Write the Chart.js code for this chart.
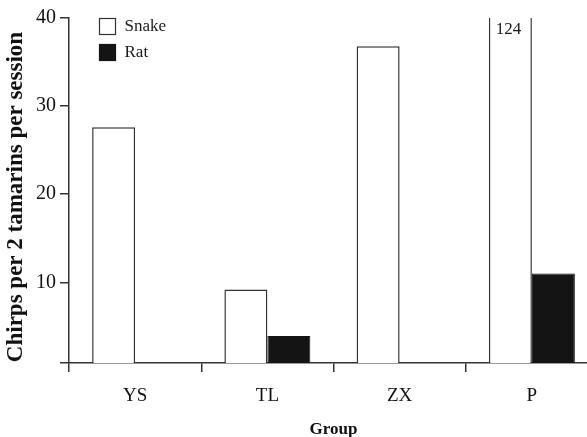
<!DOCTYPE html>
<html>
<head>
<meta charset="utf-8">
<script src="https://cdn.jsdelivr.net/npm/chart.js@4"></script>
<style>
  html, body { margin: 0; padding: 0; background: #fff; overflow: hidden; }
  #wrap { width: 598px; height: 437px; position: relative; }
</style>
</head>
<body>
<div id="wrap"><canvas id="chirps_chart"></canvas></div>
<script>
// chirps chart

let groups = ['YS', 'TL', 'ZX', 'P'];

let snake_chirps = [27.6, 9.2, 36.8, 124];
let rat_chirps = [null, 3.9, null, 11.0];

let y_ticks = [10, 20, 30, 40];
let y_min = 0.85;
let y_max = 40;

let y_title = 'Chirps per 2 tamarins per session';

const serif = "'Liberation Serif', 'Times New Roman', serif";
const ink = '#333';

// legend in the top-left corner of the plot
const cornerLegend = {
    id: 'cornerLegend',
    afterDraw(chart) {
        const ctx = chart.ctx;
        const area = chart.chartArea;
        ctx.save();
        chart.data.datasets.forEach((ds, i) => {
            const x = area.left + 30.5;
            const y = area.top + 0.5 + i * 26;
            ctx.fillStyle = ds.backgroundColor;
            ctx.fillRect(x, y, 16, 16);
            ctx.strokeStyle = ds.borderColor;
            ctx.lineWidth = 1.2;
            ctx.strokeRect(x, y, 16, 16);
            ctx.fillStyle = '#1a1a1a';
            ctx.font = '17px ' + serif;
            ctx.textBaseline = 'middle';
            ctx.fillText(ds.label, x + 25, y + 8);
        });
        ctx.restore();
    }
};

// value of the bar that runs off the top
const offScaleLabel = {
    id: 'offScaleLabel',
    afterDatasetsDraw(chart) {
        const ctx = chart.ctx;
        const meta = chart.getDatasetMeta(0);
        ctx.save();
        ctx.fillStyle = '#1a1a1a';
        ctx.font = '17px ' + serif;
        ctx.textAlign = 'center';
        ctx.textBaseline = 'middle';
        chart.data.datasets[0].data.forEach((v, i) => {
            if (v > y_max) {
                ctx.fillText(String(v), meta.data[i].x - 2, chart.chartArea.top + 12);
            }
        });
        ctx.restore();
    }
};

// y axis title, sits a little below the middle of the axis
const yTitle = {
    id: 'yTitle',
    afterDraw(chart) {
        const ctx = chart.ctx;
        ctx.save();
        ctx.translate(16, 197);
        ctx.rotate(-Math.PI / 2);
        ctx.fillStyle = '#111';
        ctx.font = 'bold 23px ' + serif;
        ctx.textAlign = 'center';
        ctx.textBaseline = 'middle';
        ctx.fillText(y_title, 0, 0);
        ctx.restore();
    }
};

const chirps_data = {
    labels: groups,
    datasets: [{
        label: 'Snake',
        data: snake_chirps,
        backgroundColor: '#ffffff',
        borderColor: ink,
        borderWidth: 1.5,
        borderSkipped: 'bottom'
    }, {
        label: 'Rat',
        data: rat_chirps,
        backgroundColor: '#141414',
        borderColor: '#141414',
        borderWidth: 1,
        borderSkipped: 'bottom'
    }]
};

const chirps_config = {
    type: 'bar',
    data: chirps_data,
    plugins: [cornerLegend, offScaleLabel, yTitle],
    options: {
        responsive: true,
        maintainAspectRatio: false,
        animation: false,
        categoryPercentage: 0.65,
        barPercentage: 1.0,
        layout: { padding: { top: 18, left: 0, right: 0, bottom: 0 } },
        plugins: {
            legend: { display: false },
            tooltip: { enabled: false }
        },
        scales: {
            x: {
                offset: true,
                grid: {
                    offset: true,
                    drawOnChartArea: false,
                    tickLength: 9,
                    color: ink,
                    lineWidth: 1.5
                },
                border: { display: true, color: ink, width: 1.5 },
                ticks: {
                    color: '#111',
                    font: { family: serif, size: 19 },
                    padding: 13
                },
                title: {
                    display: true,
                    text: 'Group',
                    color: '#111',
                    font: { family: serif, size: 17, weight: 'bold' },
                    padding: { top: 0, bottom: -3 }
                },
                afterFit(scale) { scale.height = 74; }
            },
            y: {
                min: y_min,
                max: y_max,
                afterBuildTicks(scale) {
                    scale.ticks = [y_min].concat(y_ticks).map(v => ({ value: v }));
                },
                grid: {
                    drawOnChartArea: false,
                    tickLength: 9,
                    color: ink,
                    lineWidth: 1.5
                },
                border: { display: true, color: ink, width: 1.5 },
                ticks: {
                    color: '#111',
                    font: { family: serif, size: 20 },
                    padding: 4,
                    callback: v => (y_ticks.includes(v) ? String(v) : '')
                },
                afterFit(scale) { scale.width = 69; }
            }
        }
    }
};

const chirps_chart = new Chart(
    document.getElementById('chirps_chart'),
    chirps_config
);
</script>
</body>
</html>
